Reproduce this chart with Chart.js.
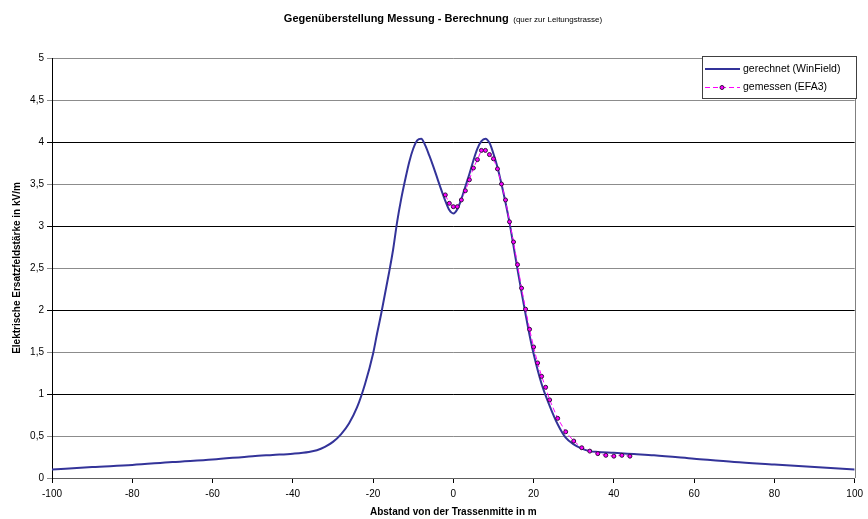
<!DOCTYPE html>
<html>
<head>
<meta charset="utf-8">
<script src="https://cdn.jsdelivr.net/npm/chart.js@4"></script>
<style>
  html, body { margin: 0; padding: 0; background: #fff; }
  #wrap { position: relative; width: 868px; height: 519px; }
  #title {
    position: absolute; top: 8px; left: 0; width: 868px; padding-left: 18px; box-sizing: border-box;
    text-align: center; font-family: Arial, "Liberation Sans", sans-serif; color: #000;
    white-space: nowrap;
  }
  #title b { font-size: 11px; }
  #title small { font-size: 8px; }
</style>
</head>
<body>
<div id="wrap">
  <canvas id="chart" width="868" height="519"></canvas>
  <div id="title"><b>Gegenüberstellung Messung - Berechnung</b> <small>(quer zur Leitungstrasse)</small></div>
</div>
<script>
// calculated field (WinField)
const calcX = [-100, -90, -80, -70, -60, -50, -45, -40, -36, -34, -32, -30, -28, -26, -24, -22,
    -20, -19, -18, -17, -16, -15, -14, -13, -12, -11, -10, -9, -8, -7, -6, -5, -4, -3, -2, -1,
    0, 1, 2, 3, 4, 5, 6, 7, 8, 9, 10, 11, 12, 13, 14, 15, 16, 17, 18, 19, 20,
    22, 24, 26, 28, 30, 32, 34, 36, 40, 45, 50, 60, 70, 80, 90, 100];
const calcY = [0.10, 0.13, 0.155, 0.19, 0.22, 0.26, 0.275, 0.29, 0.31, 0.33, 0.37, 0.43, 0.52, 0.65, 0.84, 1.12,
    1.48, 1.72, 1.95, 2.20, 2.45, 2.72, 3.05, 3.32, 3.55, 3.76, 3.92, 4.02, 4.04, 3.96, 3.84, 3.71, 3.57, 3.43, 3.30, 3.19,
    3.15, 3.20, 3.32, 3.47, 3.62, 3.78, 3.92, 4.01, 4.04, 3.99, 3.86, 3.70, 3.50, 3.28, 3.04, 2.76, 2.48, 2.21, 1.95, 1.70, 1.48,
    1.12, 0.86, 0.64, 0.48, 0.40, 0.35, 0.32, 0.31, 0.30, 0.285, 0.27, 0.23, 0.19, 0.16, 0.13, 0.10];

// measured field (EFA3)
const measX = [-2, -1, 0, 1, 2, 3, 4, 5, 6, 7, 8, 9, 10, 11, 12, 13, 14, 15, 16, 17, 18, 19, 20, 21, 22, 23, 24,
    26, 28, 30, 32, 34, 36, 38, 40, 42, 44];
const measY = [3.37, 3.27, 3.23, 3.23, 3.31, 3.42, 3.55, 3.69, 3.79, 3.90, 3.90, 3.85, 3.80, 3.68, 3.50, 3.31, 3.05, 2.81,
    2.54, 2.26, 2.01, 1.77, 1.56, 1.37, 1.21, 1.08, 0.93, 0.71, 0.55, 0.44, 0.36, 0.32, 0.29, 0.27, 0.26, 0.27, 0.26];

const xTicksMin = -100, xTicksMax = 100, xStep = 20;
const yTicksMin = 0, yTicksMax = 5, yStep = 0.5;

const seriesLabels = ['gerechnet (WinField)', 'gemessen (EFA3)'];
const FONT = 'Arial, "Liberation Sans", sans-serif';

const toPoints = (xs, ys) => xs.map((x, i) => ({ x, y: ys[i] }));

// frame + custom legend box
const framePlugin = {
    id: 'frame',
    beforeDatasetsDraw(chart) {
        const { ctx, chartArea: a } = chart;
        ctx.save();
        ctx.strokeStyle = '#808080';
        ctx.lineWidth = 1;
        ctx.beginPath();
        ctx.moveTo(Math.round(a.right) + 0.5, a.top);
        ctx.lineTo(Math.round(a.right) + 0.5, a.bottom);
        ctx.stroke();
        ctx.restore();
    },
    afterDraw(chart) {
        const { ctx } = chart;
        const ds = chart.data.datasets;
        ctx.save();
        ctx.fillStyle = '#fff';
        ctx.fillRect(702, 56, 154, 42);
        ctx.strokeStyle = '#404040';
        ctx.lineWidth = 1;
        ctx.strokeRect(702.5, 56.5, 154, 42);
        ctx.font = '10.5px ' + FONT;
        ctx.textBaseline = 'middle';
        // row 1
        ctx.strokeStyle = ds[0].borderColor;
        ctx.lineWidth = 2;
        ctx.beginPath(); ctx.moveTo(705, 69); ctx.lineTo(740, 69); ctx.stroke();
        ctx.fillStyle = '#000';
        ctx.fillText(ds[0].label, 743, 69);
        // row 2
        ctx.strokeStyle = ds[1].borderColor;
        ctx.lineWidth = 1;
        ctx.setLineDash(ds[1].borderDash);
        ctx.beginPath(); ctx.moveTo(705, 87.5); ctx.lineTo(740, 87.5); ctx.stroke();
        ctx.setLineDash([]);
        ctx.fillStyle = ds[1].pointBackgroundColor;
        ctx.strokeStyle = ds[1].pointBorderColor;
        ctx.beginPath(); ctx.arc(722, 87.5, 2, 0, Math.PI * 2); ctx.fill(); ctx.stroke();
        ctx.fillStyle = '#000';
        ctx.fillText(ds[1].label, 743, 87);
        ctx.restore();
    }
};

new Chart(document.getElementById('chart'), {
    type: 'line',
    data: {
        datasets: [{
            label: seriesLabels[0],
            data: toPoints(calcX, calcY),
            borderColor: '#333399',
            borderWidth: 2,
            pointRadius: 0,
            cubicInterpolationMode: 'monotone',
            order: 2
        }, {
            label: seriesLabels[1],
            data: toPoints(measX, measY),
            borderColor: '#ff00ff',
            borderWidth: 1,
            borderDash: [5, 3],
            pointRadius: 2,
            pointBackgroundColor: '#ff00ff',
            pointBorderColor: '#301040',
            pointBorderWidth: 1,
            tension: 0,
            order: 1
        }]
    },
    options: {
        responsive: false,
        animation: false,
        layout: { padding: { top: 58, right: 10, left: 0, bottom: 0 } },
        plugins: { legend: { display: false }, tooltip: { enabled: false } },
        scales: {
            x: {
                type: 'linear',
                min: xTicksMin, max: xTicksMax,
                afterFit: s => { s.height = 41; },
                ticks: { stepSize: xStep, color: '#000', padding: 5, font: { family: FONT, size: 10 }, maxRotation: 0 },
                grid: { drawOnChartArea: false, drawTicks: true, tickLength: 5, color: '#000' },
                border: { color: '#606060' },
                title: {
                    display: true, text: 'Abstand von der Trassenmitte in m', color: '#000',
                    font: { family: FONT, size: 10, weight: 'bold' }, padding: { top: 0, bottom: 1 }
                }
            },
            y: {
                min: yTicksMin, max: yTicksMax,
                afterFit: s => { s.width = 52; },
                ticks: {
                    stepSize: yStep, color: '#000', padding: 3, font: { family: FONT, size: 10 },
                    callback: v => String(v).replace('.', ',')
                },
                grid: {
                    drawTicks: true, tickLength: 5,
                    color: c => (c.tick && Number.isInteger(c.tick.value) && c.tick.value !== 0 && c.tick.value !== 5) ? '#000' : '#8c8c8c'
                },
                border: { color: '#000' },
                title: {
                    display: true, text: 'Elektrische Ersatzfeldstärke in kV/m', color: '#000',
                    font: { family: FONT, size: 10, weight: 'bold' }, padding: { top: 11, bottom: 0 }
                }
            }
        }
    },
    plugins: [framePlugin]
});
</script>
</body>
</html>
